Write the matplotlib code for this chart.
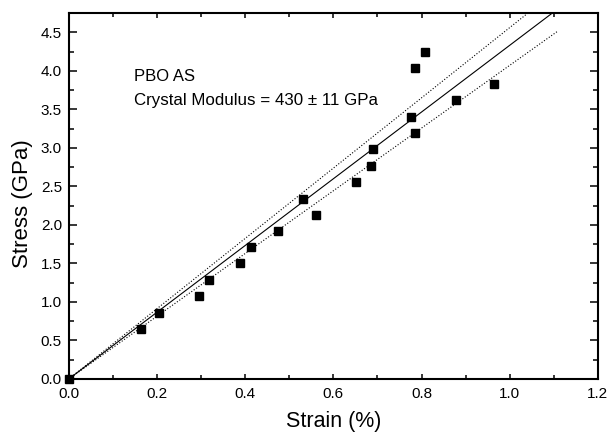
import numpy as np
import matplotlib
matplotlib.use("Agg")
import matplotlib.pyplot as plt
from matplotlib.ticker import MultipleLocator, FormatStrFormatter

plt.rc('font', family=['Liberation Sans', 'DejaVu Sans'])

strain = [0.0, 0.163, 0.204, 0.296, 0.318, 0.389, 0.414, 0.474, 0.532, 0.561,
          0.652, 0.686, 0.689, 0.776, 0.785, 0.786, 0.808, 0.879, 0.964]
stress = [0.0, 0.65, 0.86, 1.07, 1.29, 1.50, 1.71, 1.92, 2.34, 2.13,
          2.55, 2.77, 2.98, 3.40, 3.19, 4.04, 4.25, 3.62, 3.83]

# fit line and the two bounds (GPa per % strain), all through origin
fit_slope = 4.33
upper_slope = 4.56
lower_slope = 4.07
line_x = [0.0, 1.11]

fig = plt.figure(figsize=(6.1, 4.33), dpi=100, facecolor='w')
ax = fig.add_axes([0.113, 0.125, 0.867, 0.845])

ax.plot(strain, stress, 's', color='black', markersize=5.5, zorder=3, clip_on=False)
xs = np.array(line_x)
ax.plot(xs, fit_slope * xs, '-', color='black', lw=0.8)
ax.plot(xs, upper_slope * xs, ':', color='black', lw=0.8)
ax.plot(xs, lower_slope * xs, ':', color='black', lw=0.8)

ax.text(0.147, 3.92, "PBO AS", fontsize=12, va='center')
ax.text(0.147, 3.62, "Crystal Modulus = 430 \u00b1 11 GPa", fontsize=12.2, va='center')

ax.set_xlim(0, 1.2)
ax.set_ylim(0, 4.75)
ax.xaxis.set_major_locator(MultipleLocator(0.2))
ax.xaxis.set_minor_locator(MultipleLocator(0.1))
ax.yaxis.set_major_locator(MultipleLocator(0.5))
ax.yaxis.set_minor_locator(MultipleLocator(0.25))
ax.xaxis.set_major_formatter(FormatStrFormatter('%.1f'))
ax.yaxis.set_major_formatter(FormatStrFormatter('%.1f'))
ax.tick_params(which='both', direction='in', top=True, right=True, width=1.1, labelsize=11)
ax.tick_params(axis='x', which='major', length=3.8, pad=6)
ax.tick_params(axis='x', which='minor', length=2.8)
ax.tick_params(axis='y', which='major', length=5.8, pad=5)
ax.tick_params(axis='y', which='minor', length=3.6)
for s in ax.spines.values():
    s.set_linewidth(1.5)

ax.set_xlabel("Strain (%)", fontsize=15.5, labelpad=7)
ax.set_ylabel("Stress (GPa)", fontsize=16)
ax.yaxis.set_label_coords(-0.068, 0.478)

fig.savefig("out.png", dpi=100)
